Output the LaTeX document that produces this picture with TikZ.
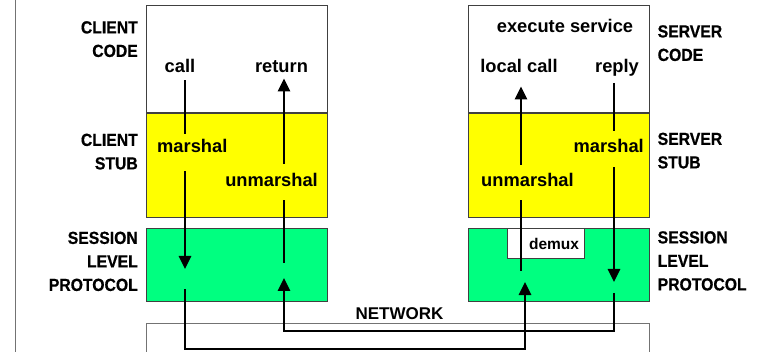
\documentclass[tikz,border=0pt]{standalone}
\usepackage{fontspec}
\setmainfont{Liberation Sans}
\newfontfamily\sidefont[FakeStretch=0.9, FakeBold=0.6]{Liberation Sans Bold}
\usetikzlibrary{%
  arrows.meta,%
  positioning%
}

\definecolor{stubyellow}{RGB}{255,255,0}
\definecolor{sessgreen}{RGB}{0,255,128}

\begin{document}
\begin{tikzpicture}[
      x=1pt, y=-1pt,
      layer/.style={
        draw=black!75,
        line width=0.8pt,
        minimum width=181pt,
        inner sep=0pt,
        anchor=north west
      },
      side/.style={
        font=\sidefont\fontsize{17.5}{23.5}\selectfont,
        inner sep=0pt
      },
      lbl/.style={
        font=\bfseries\fontsize{18.3}{22}\selectfont,
        inner sep=0pt,
        anchor=base
      },
      flow/.style={line width=2.6pt},
      tip/.style={
        flow,
        -{Triangle[width=12pt,length=13pt]}
      }
    ]
    \useasboundingbox (0,0) rectangle (762,352);
    \draw[black!55, line width=1pt] (15,0) -- (15,352);

    % client column
    \node[layer, fill=white, minimum height=107pt] (ccode) at (146,5) {};
    \node[layer, fill=stubyellow, minimum height=104pt] (cstub) at (ccode.south west) {};
    \node[layer, fill=sessgreen, minimum height=73pt] (csess) at (146,228) {};

    % server column
    \node[layer, fill=white, minimum height=107pt] (scode) at (468,5) {};
    \node[layer, fill=stubyellow, minimum height=104pt] (sstub) at (scode.south west) {};
    \node[layer, fill=sessgreen, minimum height=73pt] (ssess) at (468,228) {};
    \node[layer, fill=white, minimum width=77pt, minimum height=30pt] (demuxbox) at (507,228) {};

    % network
    \node[layer, draw=black!55, minimum width=503pt, minimum height=45pt] (net) at (146,323) {};
    \node[lbl, font=\bfseries\fontsize{17}{20}\selectfont] (network) at (399.5,319) {NETWORK};

    % side labels
    \node[side, anchor=north east, align=right] (cclab) at (138,21) {CLIENT\\CODE};
    \node[side, anchor=north east, align=right] (cslab) at (138,133.5) {CLIENT\\STUB};
    \node[side, anchor=north east, align=right] (cplab) at (138,231.5) {SESSION\\LEVEL\\PROTOCOL};
    \node[side, anchor=north west, align=left] (sclab) at (657.5,25) {SERVER\\CODE};
    \node[side, anchor=north west, align=left] (sslab) at (657.5,132.5) {SERVER\\STUB};
    \node[side, anchor=north west, align=left] (splab) at (657.5,231) {SESSION\\LEVEL\\PROTOCOL};

    % labels in the boxes
    \node[lbl] (call) at (180,73) {call};
    \node[lbl] (return) at (281.5,73) {return};
    \node[lbl, anchor=base west] (cmarshal) at (157,153) {marshal};
    \node[lbl, anchor=base east] (cunmarshal) at (318,187) {unmarshal};
    \node[lbl] (execute) at (565,33) {execute service};
    \node[lbl] (localcall) at (519,73) {local call};
    \node[lbl] (reply) at (617,73) {reply};
    \node[lbl, anchor=base east] (smarshal) at (644,153) {marshal};
    \node[lbl, anchor=base west] (sunmarshal) at (481,187) {unmarshal};
    \node[lbl, font=\bfseries\fontsize{15.5}{18}\selectfont] (demux) at (554,250) {demux};

    % flow points
    \coordinate (ctip) at (185,269);
    \coordinate (cout) at (185,289);
    \coordinate (cin) at (284,278);
    \coordinate (cfrom) at (284,263);
    \coordinate (sfrom) at (521,271);
    \coordinate (sin) at (525,282);
    \coordinate (stip) at (614,282);
    \coordinate (sout) at (614,293);
    \coordinate (buslow) at (0,349);
    \coordinate (bushigh) at (0,331);

    % request
    \draw[flow, shorten <=7pt, shorten >=5.7pt] (call.south -| ctip) -- (cmarshal.north -| ctip);
    \draw[tip, shorten <=18pt] (cmarshal.south -| ctip) -- (ctip);
    \draw[tip] (cout) -- (cout |- buslow) -| (sin);
    \draw[flow, shorten >=13pt] (sfrom) -- (sunmarshal.south -| sfrom);
    \draw[tip, shorten <=8.7pt, shorten >=13pt] (sunmarshal.north -| sfrom) -- (localcall.south -| sfrom);

    % reply
    \draw[flow, shorten <=6pt, shorten >=8.7pt] (reply.south -| stip) -- (smarshal.north -| stip);
    \draw[tip, shorten <=14pt] (smarshal.south -| stip) -- (stip);
    \draw[tip] (sout) -- (sout |- bushigh) -| (cin);
    \draw[flow, shorten >=13pt] (cfrom) -- (cunmarshal.south -| cfrom);
    \draw[tip, shorten <=9.7pt, shorten >=5pt] (cunmarshal.north -| cfrom) -- (return.south -| cfrom);
  \end{tikzpicture}
\end{document}
